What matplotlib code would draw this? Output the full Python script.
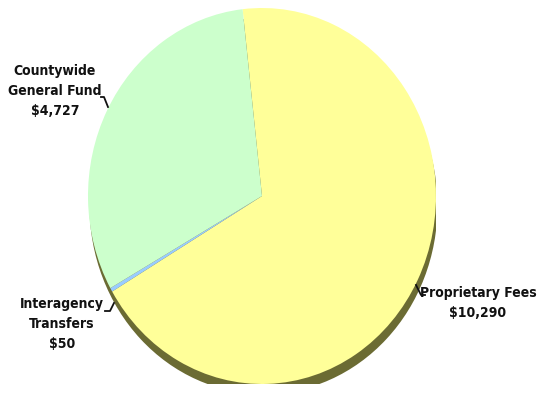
import matplotlib
matplotlib.use("Agg")
import matplotlib.pyplot as plt
from matplotlib.patches import Ellipse

categories = ["Proprietary Fees", "Interagency\nTransfers", "Countywide\nGeneral Fund"]
values = [10290, 50, 4727]
value_labels = ["$10,290", "$50", "$4,727"]
colors = ["#FFFF99", "#99CCFF", "#CCFFCC"]

W, H = 537, 400
fig = plt.figure(figsize=(W / 100, H / 100), dpi=100)
fig.patch.set_facecolor("white")

# pie axes (ellipse)
cx, cy, rx, ry = 262, 196, 174, 188
ax = fig.add_axes([(cx - rx) / W, (H - (cy + ry)) / H, 2 * rx / W, 2 * ry / H])
ax.set_xlim(-1, 1)
ax.set_ylim(-1, 1)
ax.set_aspect("auto")
ax.axis("off")

shadow = Ellipse((1.5 / rx, -10 / ry), 2, 2, facecolor="#6B6B33", edgecolor="none", zorder=0)
ax.add_patch(shadow)

wedges, _ = ax.pie(values, colors=colors, startangle=96.4, counterclock=False,
                   radius=1, wedgeprops=dict(linewidth=0, edgecolor="none"))
for w in wedges:
    w.set_zorder(1)
ax.set_xlim(-1, 1)
ax.set_ylim(-1, 1)
ax.set_aspect("auto")

# overlay axes in pixel coordinates for labels
ov = fig.add_axes([0, 0, 1, 1])
ov.set_xlim(0, W)
ov.set_ylim(H, 0)
ov.axis("off")
ov.patch.set_alpha(0)

font = dict(family="DejaVu Sans", fontstretch="condensed", fontweight="bold",
            fontsize=10, color="#111111", ha="center", va="center", linespacing=1.55)

ov.text(55, 91, categories[2] + "\n" + value_labels[2], **font)
ov.text(62, 324, categories[1] + "\n" + value_labels[1], **font)
ov.text(478, 303, categories[0] + "\n" + value_labels[0], **font)

lk = dict(color="#111111", lw=1.3)
ov.plot([101, 104, 108], [97, 97, 107], **lk)
ov.plot([105, 110, 114], [311, 311, 303], **lk)
ov.plot([416, 421, 425], [285, 295, 295], **lk)

fig.savefig("out.png", dpi=100, facecolor="white")
